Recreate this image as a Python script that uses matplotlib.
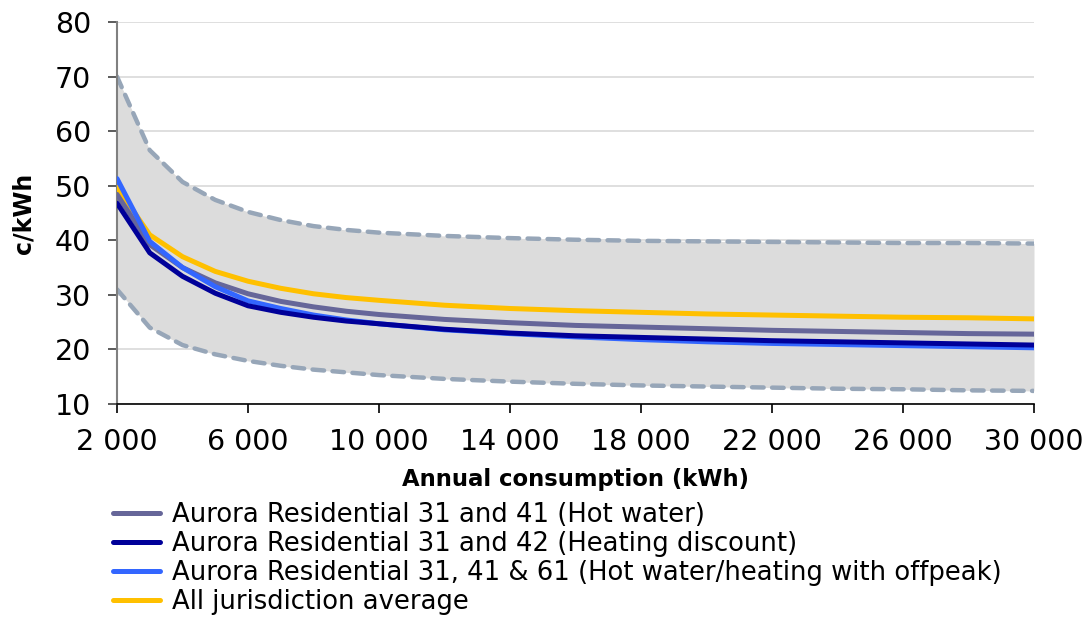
import matplotlib
matplotlib.use("Agg")
import matplotlib.pyplot as plt
from matplotlib.ticker import FuncFormatter

plt.rcParams['font.family'] = ['DejaVu Sans']

consumption = [2000, 3000, 4000, 5000, 6000, 7000, 8000, 9000, 10000, 12000,
               14000, 16000, 18000, 20000, 22000, 24000, 26000, 28000, 30000]

range_high = [70.0, 56.5, 50.7, 47.4, 45.2, 43.7, 42.6, 41.9, 41.4, 40.8,
              40.4, 40.1, 39.9, 39.8, 39.7, 39.6, 39.5, 39.5, 39.4]
range_low = [31.0, 24.0, 20.8, 19.1, 17.9, 17.0, 16.3, 15.8, 15.3, 14.6,
             14.1, 13.7, 13.4, 13.2, 13.0, 12.8, 12.7, 12.5, 12.4]

hot_water = [48.4, 39.2, 35.0, 32.2, 30.2, 28.8, 27.8, 27.0, 26.4, 25.5,
             24.9, 24.4, 24.1, 23.8, 23.5, 23.3, 23.1, 22.9, 22.8]
heating_discount = [46.8, 37.7, 33.4, 30.3, 28.0, 26.8, 25.9, 25.2, 24.7, 23.7,
                    23.0, 22.5, 22.2, 21.9, 21.6, 21.4, 21.2, 21.0, 20.8]
offpeak = [51.3, 39.8, 35.0, 31.5, 28.9, 27.5, 26.3, 25.4, 24.7, 23.6,
           22.9, 22.3, 21.8, 21.4, 21.1, 20.9, 20.7, 20.5, 20.3]
jurisdiction_avg = [49.7, 41.0, 37.0, 34.3, 32.5, 31.2, 30.2, 29.5, 29.0, 28.1,
                    27.5, 27.1, 26.8, 26.5, 26.3, 26.1, 25.9, 25.8, 25.6]

labels = [
    "Aurora Residential 31 and 41 (Hot water)",
    "Aurora Residential 31 and 42 (Heating discount)",
    "Aurora Residential 31, 41 & 61 (Hot water/heating with offpeak)",
    "All jurisdiction average",
]
colors = ["#666699", "#000099", "#3366FF", "#FFC000"]
x_ticks = [2000, 6000, 10000, 14000, 18000, 22000, 26000, 30000]

fig = plt.figure(figsize=(10.82, 6.17), dpi=100)
ax = fig.add_axes([117 / 1082, 1 - 404 / 617, 917 / 1082, 382 / 617])

# shaded range between lowest and highest offers
ax.fill_between(consumption, range_low, range_high, color="#DCDCDC", lw=0, zorder=1)
band_style = dict(color="#97A6B8", lw=3.2, dashes=(2.6, 1.9),
                  dash_capstyle="round", dash_joinstyle="round", zorder=2)
ax.plot(consumption, range_high, **band_style)
ax.plot(consumption, range_low, **band_style)

series = [hot_water, heating_discount, offpeak, jurisdiction_avg]
handles = [None] * 4
for i in [3, 0, 2, 1]:
    h, = ax.plot(consumption, series[i], color=colors[i], lw=3.6,
                 solid_capstyle="round", solid_joinstyle="round", zorder=3)
    handles[i] = h

ax.set_xlim(2000, 30000)
ax.set_ylim(10, 80)
ax.set_yticks(range(10, 81, 10))
ax.set_xticks(x_ticks)
ax.xaxis.set_major_formatter(FuncFormatter(lambda v, p: f"{int(v):,}".replace(",", " ")))

ax.yaxis.grid(True, color="#D9D9D9", lw=1.2, zorder=0)
ax.set_axisbelow(True)

for s in ["top", "right"]:
    ax.spines[s].set_visible(False)
ax.spines["left"].set_color("#808080")
ax.spines["left"].set_linewidth(1.5)
ax.spines["bottom"].set_color("black")
ax.spines["bottom"].set_linewidth(1.2)

ax.tick_params(axis="y", direction="out", length=6.5, width=1.2, color="#404040",
               labelsize=20.5, pad=12)
ax.tick_params(axis="x", direction="out", length=6.5, width=1.2, color="black",
               labelsize=20.5, pad=10.5)

ax.set_ylabel("c/kWh", fontsize=17, fontweight="bold", labelpad=14)
ax.set_xlabel("Annual consumption (kWh)", fontsize=16.4, fontweight="bold", labelpad=9)

fig.legend(handles, labels, loc="upper left", bbox_to_anchor=(113 / 1082, 1 - 502 / 617),
           frameon=False, fontsize=18.6, handlelength=1.8, handletextpad=0.5,
           labelspacing=0.12, borderaxespad=0, borderpad=0)

fig.savefig("out.png", dpi=100)
